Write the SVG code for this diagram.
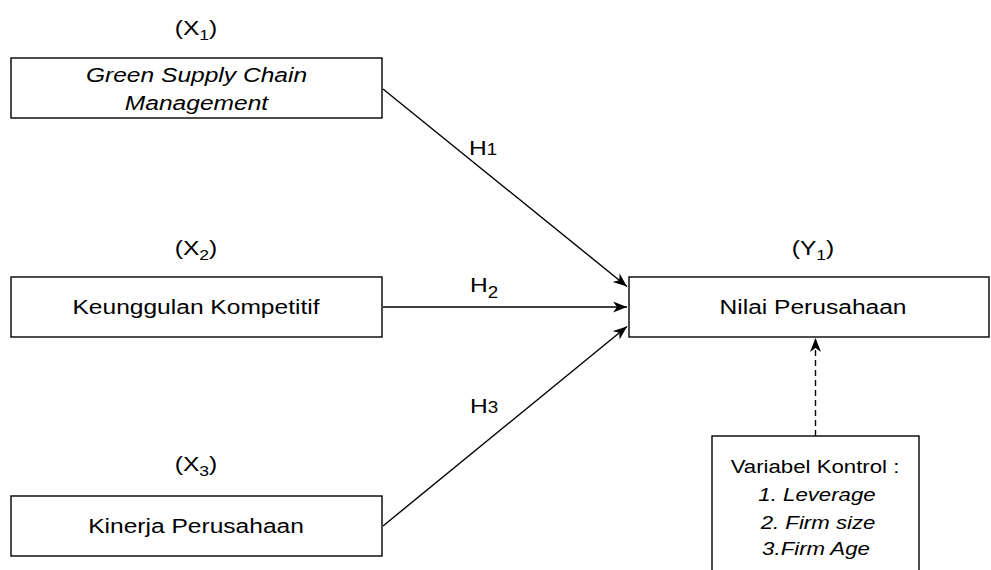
<svg xmlns="http://www.w3.org/2000/svg" width="991" height="570" viewBox="0 0 991 570">
<style>
.box{fill:#fff;stroke:#000;stroke-width:1.4}
.t{font-family:"Liberation Sans",Arial,Helvetica,sans-serif;font-size:21px;fill:#000;text-anchor:middle}
.i{font-style:italic}
.s{font-size:19px}
.edge{fill:none;stroke:#000;stroke-width:1.4}
.dash{stroke-dasharray:6 4}
</style>
<defs>
<marker id="arr" markerUnits="userSpaceOnUse" markerWidth="16" markerHeight="12" refX="14" refY="5.5" orient="auto">
<path d="M0,0 L14,5.5 L0,11 L4,5.5 Z" fill="#000"/>
</marker>
</defs>
<rect width="991" height="570" fill="#fff"/>
<g id="connectors">
<path class="edge" d="M383,89 L627,286.5" marker-end="url(#arr)"/>
<path class="edge" d="M383,307 L627,307" marker-end="url(#arr)"/>
<path class="edge" d="M383,526 L627,326.5" marker-end="url(#arr)"/>
<path class="edge dash" d="M815.5,436 L815.5,338" marker-end="url(#arr)"/>
<text class="t" transform="translate(483 155) scale(1.17 1)" font-size="22">H<tspan font-size="16">1</tspan></text>
<text class="t" transform="translate(484 292) scale(1.17 1)" font-size="22">H<tspan font-size="16" dy="6">2</tspan></text>
<text class="t" transform="translate(484 413) scale(1.17 1)" font-size="22">H<tspan font-size="16">3</tspan></text>
</g>
<g id="x1">
<text class="t" transform="translate(196 35) scale(1.17 1)">(X<tspan font-size="15" dy="5">1</tspan><tspan dy="-5">)</tspan></text>
<rect class="box" x="11" y="58" width="371" height="60"/>
<text class="t i" transform="translate(196.5 81.5) scale(1.17 1)">Green Supply Chain</text>
<text class="t i" transform="translate(196.5 110) scale(1.17 1)">Management</text>
</g>
<g id="x2">
<text class="t" transform="translate(196 255) scale(1.17 1)">(X<tspan font-size="15" dy="5">2</tspan><tspan dy="-5">)</tspan></text>
<rect class="box" x="11" y="277" width="371" height="60"/>
<text class="t" transform="translate(196 314) scale(1.17 1)">Keunggulan Kompetitif</text>
</g>
<g id="x3">
<text class="t" transform="translate(196 471) scale(1.17 1)">(X<tspan font-size="15" dy="5">3</tspan><tspan dy="-5">)</tspan></text>
<rect class="box" x="11" y="496" width="371" height="60"/>
<text class="t" transform="translate(196 533) scale(1.17 1)">Kinerja Perusahaan</text>
</g>
<g id="y1">
<text class="t" transform="translate(813 255) scale(1.17 1)">(Y<tspan font-size="15" dy="5">1</tspan><tspan dy="-5">)</tspan></text>
<rect class="box" x="629" y="277" width="360" height="60"/>
<text class="t" transform="translate(813 314) scale(1.17 1)">Nilai Perusahaan</text>
</g>
<g id="kontrol">
<rect class="box" x="712" y="436" width="207" height="200"/>
<text class="t s" transform="translate(815 473) scale(1.17 1)">Variabel Kontrol :</text>
<text class="t s i" transform="translate(817 501) scale(1.17 1)">1. Leverage</text>
<text class="t s i" transform="translate(818 529) scale(1.17 1)">2. Firm size</text>
<text class="t s i" transform="translate(816 555) scale(1.17 1)">3.Firm Age</text>
</g>
</svg>
